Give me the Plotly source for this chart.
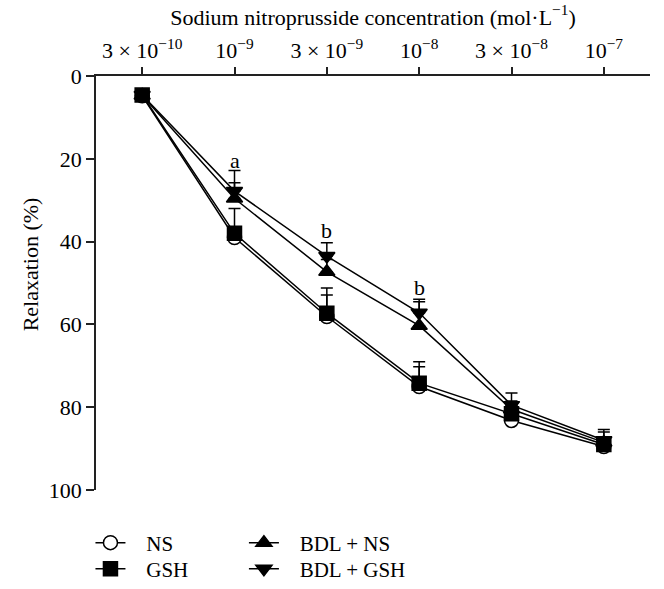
import plotly.graph_objects as go

conc_labels = ["3 × 10<sup>−10</sup>", "10<sup>−9</sup>", "3 × 10<sup>−9</sup>",
               "10<sup>−8</sup>", "3 × 10<sup>−8</sup>", "10<sup>−7</sup>"]
xpos = [0, 1, 2, 3, 4, 5]

ns = [4.8, 39.0, 58.1, 75.0, 83.2, 89.5]
gsh = [4.6, 38.0, 57.3, 74.2, 81.6, 89.0]
bdl_ns = [4.7, 29.6, 47.3, 60.3, 80.5, 88.5]
bdl_gsh = [4.6, 27.8, 43.5, 57.2, 79.5, 88.0]

ns_err = [0, 2.0, 5.2, 4.8, 1.5, 1.0]
gsh_err = [0, 6.0, 6.1, 5.2, 2.0, 1.2]
bdl_ns_err = [0, 3.8, 3.0, 5.8, 2.0, 2.5]
bdl_gsh_err = [0, 5.0, 3.2, 3.3, 2.9, 2.6]

sig_labels = ["a", "b", "b"]
sig_x = [1, 2, 3]
sig_y = [20.3, 37.2, 51.2]

FONT = "Liberation Serif"
FS = 22
LFS = 21
NB = "\u00a0\u00a0\u00a0"

fig = go.Figure()

def add(name, y, err, symbol, fill, legend):
    fig.add_trace(go.Scatter(
        x=xpos, y=y, name=NB + name, mode="lines+markers",
        line=dict(color="black", width=1.5),
        marker=dict(symbol=symbol, size=14, color=fill,
                    line=dict(color="black", width=1.5)),
        error_y=dict(type="data", symmetric=False, array=[0] * len(err),
                     arrayminus=err, color="black", thickness=1.5, width=6),
        legend=legend,
    ))

add("NS", ns, ns_err, "circle", "white", "legend")
add("GSH", gsh, gsh_err, "square", "black", "legend2")
add("BDL + NS", bdl_ns, bdl_ns_err, "triangle-up", "black", "legend3")
add("BDL + GSH", bdl_gsh, bdl_gsh_err, "triangle-down", "black", "legend4")

for t, xx, yy in zip(sig_labels, sig_x, sig_y):
    fig.add_annotation(x=xx, y=yy, text=t, showarrow=False,
                       font=dict(family=FONT, size=FS, color="black"))

fig.add_annotation(xref="paper", yref="paper", x=-66 / 554, y=0.545,
                   text="Relaxation (%)", textangle=-90, showarrow=False,
                   xanchor="center", yanchor="middle",
                   font=dict(family=FONT, size=FS, color="black"))

def leg(x, y):
    return dict(x=x, y=y, xanchor="left", yanchor="middle",
                bgcolor="rgba(0,0,0,0)", font=dict(size=LFS),
                tracegroupgap=0, itemwidth=30)

fig.update_layout(
    width=664, height=589,
    margin=dict(l=96, r=14, t=76, b=99, autoexpand=False),
    paper_bgcolor="white", plot_bgcolor="white",
    font=dict(family=FONT, size=FS, color="black"),
    showlegend=True,
    legend=leg(-0.010, -0.128),
    legend2=leg(-0.010, -0.191),
    legend3=leg(0.267, -0.128),
    legend4=leg(0.267, -0.191),
)

fig.update_xaxes(
    range=[-0.5, 5.5], side="top", tickvals=xpos, ticktext=conc_labels,
    ticks="outside", ticklen=7, tickwidth=1.5, tickcolor="#222",
    showline=True, linecolor="#222", linewidth=1.5, showgrid=False, zeroline=False,
    automargin=False,
    title=dict(text="Sodium nitroprusside concentration (mol·L<sup>−1</sup>)",
               font=dict(family=FONT, size=FS), standoff=4),
    tickfont=dict(family=FONT, size=FS),
)
fig.update_yaxes(
    range=[100, 0], tickvals=[0, 20, 40, 60, 80, 100],
    ticks="outside", ticklen=8, tickwidth=1.5, tickcolor="#222",
    showline=True, linecolor="#222", linewidth=1.5, showgrid=False, zeroline=False,
    automargin=False,
    tickfont=dict(family=FONT, size=FS),
)

fig.write_html("out.html", config={"displayModeBar": False},
               post_script="document.body.style.margin='0px';")
